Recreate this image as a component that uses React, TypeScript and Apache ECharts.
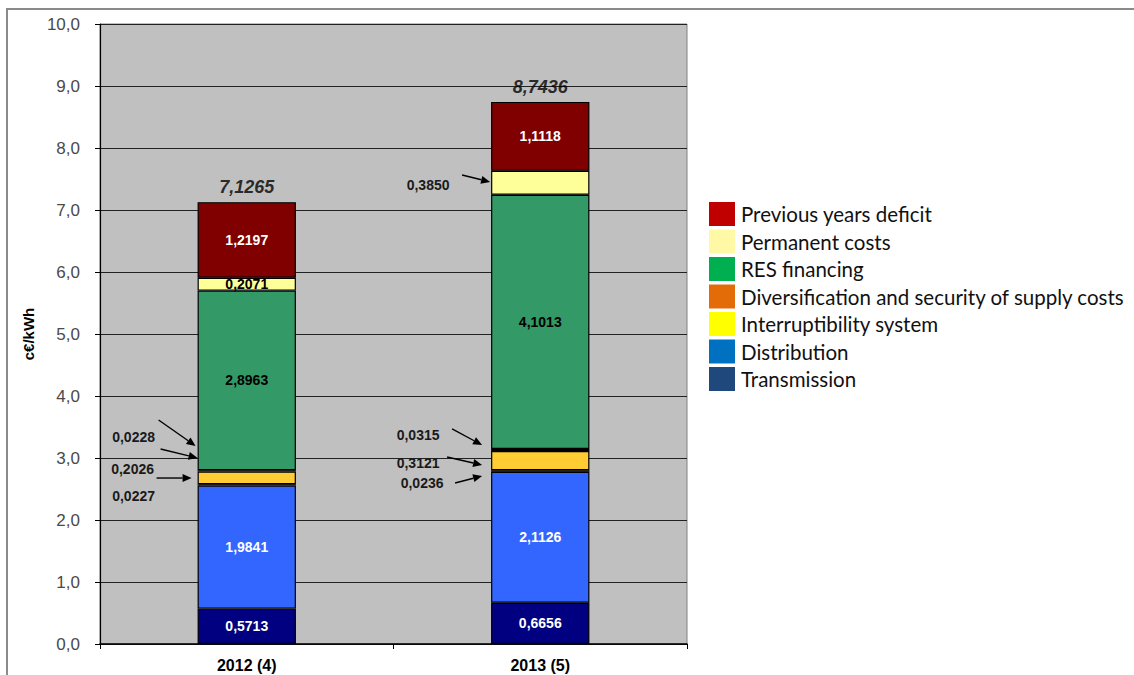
import React, { useEffect, useRef } from 'react';
import * as echarts from 'echarts';

const categories = ['2012 (4)', '2013 (5)'];
const transmission = [0.5713, 0.6656];
const distribution = [1.9841, 2.1126];
const otherCosts = [0.0227, 0.0236];
const interruptibility = [0.2026, 0.3121];
const diversification = [0.0228, 0.0315];
const resFinancing = [2.8963, 4.1013];
const permanentCosts = [0.2071, 0.385];
const previousDeficit = [1.2197, 1.1118];
const totals = [7.1265, 8.7436];

const legendOrder = [
  { name: 'Previous years deficit', color: '#C00000' },
  { name: 'Permanent costs', color: '#FFF9A6' },
  { name: 'RES financing', color: '#00B050' },
  { name: 'Diversification and security of supply costs', color: '#E36C09' },
  { name: 'Interruptibility system', color: '#FFFF00' },
  { name: 'Distribution', color: '#0070C0' },
  { name: 'Transmission', color: '#1F497D' },
];

// bottom to top
const seriesDefs = [
  { name: 'Transmission', data: transmission, color: '#000080', text: '#fff' },
  { name: 'Distribution', data: distribution, color: '#3366FF', text: '#fff' },
  { name: 'Other regulated costs', data: otherCosts, color: '#1a1a1a', text: '#fff' },
  { name: 'Interruptibility system', data: interruptibility, color: '#FFCC33', text: '#000' },
  { name: 'Diversification and security of supply costs', data: diversification, color: '#7a3300', text: '#fff' },
  { name: 'RES financing', data: resFinancing, color: '#339966', text: '#000' },
  { name: 'Permanent costs', data: permanentCosts, color: '#FFFF99', text: '#000' },
  { name: 'Previous years deficit', data: previousDeficit, color: '#800000', text: '#fff' },
];

// callouts for thin segments: x in px from the bar's left edge, y in axis units
const callouts = [
  { series: 'Diversification and security of supply costs', cat: 0, label: [-64, 3.339], tail: [-39, 3.613], tip: [-2, 3.194] },
  { series: 'Interruptibility system', cat: 0, label: [-65, 2.823], tail: [-41, 2.677], tip: [-6, 2.677] },
  { series: 'Other regulated costs', cat: 0, label: [-64, 2.387], tail: [-37, 3.145], tip: [0, 3.0] },
  { series: 'Permanent costs', cat: 1, label: [-63, 7.403], tail: [-29, 7.565], tip: [-1, 7.452] },
  { series: 'Diversification and security of supply costs', cat: 1, label: [-73, 3.371], tail: [-39, 3.468], tip: [-9, 3.21] },
  { series: 'Interruptibility system', cat: 1, label: [-73, 2.919], tail: [-44, 3.016], tip: [-9, 2.887] },
  { series: 'Other regulated costs', cat: 1, label: [-69, 2.597], tail: [-36, 2.597], tip: [-9, 2.71] },
];

const BAR_PCT = 33.5;
const FONT = '"Liberation Sans", Arial, sans-serif';
const fmt = (v: number, d: number) => v.toFixed(d).replace('.', ',');

const App: React.FC = () => {
  const chartRef = useRef<HTMLDivElement>(null);

  useEffect(() => {
    document.body.style.margin = '0';
    if (!chartRef.current) return;
    const chart = echarts.init(chartRef.current, undefined, { renderer: 'svg' });

    const isCallout = (name: string, cat: number) =>
      callouts.some(c => c.series === name && c.cat === cat);

    const barSeries = seriesDefs.map(s => ({
      name: s.name,
      type: 'bar',
      stack: 'total',
      barWidth: `${BAR_PCT}%`,
      itemStyle: { color: s.color, borderColor: '#000', borderWidth: 1.2 },
      label: {
        show: true,
        position: 'inside',
        color: s.text,
        fontFamily: FONT,
        fontWeight: 'bold',
        fontSize: 14,
        formatter: (p: any) => fmt(p.value, 4),
      },
      data: s.data.map((v, i) => ({ value: v, label: { show: !isCallout(s.name, i) } })),
    }));

    const option = {
      animation: false,
      textStyle: { fontFamily: FONT },
      grid: {
        left: 100,
        top: 24,
        width: 587,
        height: 620,
        show: true,
        backgroundColor: '#C0C0C0',
        borderColor: '#808080',
        borderWidth: 1,
      },
      legend: {
        orient: 'vertical',
        left: 709,
        top: 202,
        padding: 0,
        itemWidth: 26,
        itemHeight: 24,
        itemGap: 3.5,
        icon: 'rect',
        itemStyle: { borderWidth: 0 },
        textStyle: {
          fontFamily: 'Lato, "Open Sans", sans-serif',
          fontSize: 20.5,
          lineHeight: 24,
          color: '#111',
          padding: [0, 0, 0, 1],
        },
        data: legendOrder.map(l => ({ name: l.name, itemStyle: { color: l.color, borderWidth: 0 } })),
        selectedMode: false,
      },
      xAxis: {
        type: 'category',
        data: categories,
        axisLine: { lineStyle: { color: '#000', width: 1.5 } },
        axisTick: { show: true, length: 5, interval: 0, lineStyle: { color: '#000' } },
        axisLabel: { color: '#000', fontWeight: 'bold', fontSize: 16, margin: 13, fontFamily: FONT },
      },
      yAxis: {
        type: 'value',
        min: 0,
        max: 10,
        interval: 1,
        name: 'c€/kWh',
        nameLocation: 'middle',
        nameGap: 62,
        nameTextStyle: { color: '#000', fontWeight: 'bold', fontSize: 15, fontFamily: FONT },
        axisLine: { show: true, lineStyle: { color: '#000', width: 1.2 } },
        axisTick: { show: true, length: 5, lineStyle: { color: '#000' } },
        axisLabel: {
          color: '#4a4a4a',
          fontSize: 17,
          margin: 20,
          fontFamily: FONT,
          formatter: (v: number) => fmt(v, 1),
        },
        splitLine: { lineStyle: { color: '#222', width: 1 } },
      },
      series: [
        ...barSeries,
        {
          name: 'Total',
          type: 'scatter',
          symbolSize: 0,
          z: 5,
          label: {
            show: true,
            position: 'top',
            distance: 6,
            color: '#000',
            fontFamily: FONT,
            fontWeight: 'bold',
            fontStyle: 'italic',
            fontSize: 18,
            formatter: (p: any) => fmt(p.value, 4),
          },
          data: totals,
        },
      ],
    };

    chart.setOption(option);

    // callout arrows and labels, placed from the axes
    const x0 = chart.convertToPixel({ xAxisIndex: 0 }, 0) as number;
    const x1 = chart.convertToPixel({ xAxisIndex: 0 }, 1) as number;
    const half = ((x1 - x0) * BAR_PCT) / 100 / 2;
    const barLeft = (cat: number) => (cat === 0 ? x0 : x1) - half;
    const py = (v: number) => chart.convertToPixel({ yAxisIndex: 0 }, v) as number;

    const graphics: any[] = [
      {
        type: 'rect',
        silent: true,
        shape: { x: 7, y: 9, width: 1200, height: 800 },
        style: { fill: 'none', stroke: '#8a8a8a', lineWidth: 2 },
        z: 0,
      },
    ];
    callouts.forEach(c => {
      const def = seriesDefs.find(s => s.name === c.series)!;
      const left = barLeft(c.cat);
      const tx = left + c.tail[0];
      const ty = py(c.tail[1]);
      const hx = left + c.tip[0];
      const hy = py(c.tip[1]);
      const len = Math.hypot(hx - tx, hy - ty) || 1;
      const ux = (hx - tx) / len;
      const uy = (hy - ty) / len;
      const head = 9;
      const w = 4;
      const bx = hx - ux * head;
      const by = hy - uy * head;
      graphics.push({
        type: 'line',
        silent: true,
        z: 10,
        shape: { x1: tx, y1: ty, x2: bx, y2: by },
        style: { stroke: '#000', lineWidth: 1.4 },
      });
      graphics.push({
        type: 'polygon',
        silent: true,
        z: 10,
        shape: {
          points: [
            [hx, hy],
            [bx - uy * w, by + ux * w],
            [bx + uy * w, by - ux * w],
          ],
        },
        style: { fill: '#000' },
      });
      graphics.push({
        type: 'text',
        silent: true,
        z: 10,
        x: left + c.label[0],
        y: py(c.label[1]),
        style: {
          text: fmt(def.data[c.cat], 4),
          fill: '#1a1a1a',
          font: `bold 14px ${FONT}`,
          align: 'center',
          verticalAlign: 'middle',
          textAlign: 'center',
          textVerticalAlign: 'middle',
        },
      });
    });

    chart.setOption({ graphic: graphics });

    return () => {
      chart.dispose();
    };
  }, []);

  return <div ref={chartRef} style={{ width: '1134px', height: '675px' }} />;
};

export default App;
